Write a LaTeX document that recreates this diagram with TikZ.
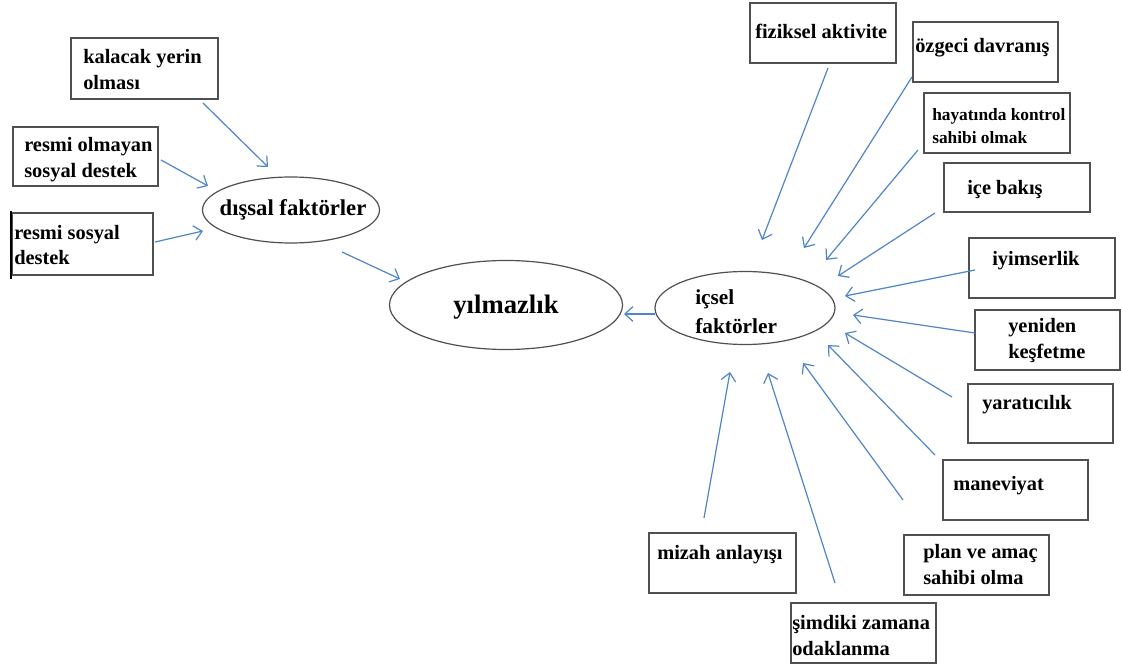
\documentclass[tikz,border=0pt]{standalone}
\usepackage{fontspec}
\setmainfont{Liberation Serif}
\usetikzlibrary{arrows.meta,shapes.geometric,fit}
\definecolor{arrowblue}{HTML}{5085C8}
\definecolor{boxgray}{HTML}{505050}
\begin{document}
\begin{tikzpicture}[x=0.75pt,y=-0.75pt,
  box/.style={draw=boxgray, line width=1.1pt, inner sep=0pt},
  ell/.style={draw=boxgray, line width=0.9pt, ellipse, inner sep=0pt},
  lbl/.style={font=\fontsize{15.3}{19}\selectfont\bfseries, inner sep=0pt, align=left, anchor=west},
  small/.style={font=\fontsize{13}{17}\selectfont\bfseries},
  arr/.style={draw=arrowblue, line width=0.9pt, -{Straight Barb[length=6pt,width=11pt]}}]
\fill[white] (0,0) rectangle (1121,670);
\useasboundingbox (0,0) rectangle (1121,670);

% ---- left boxes
\node[box, fit={(71,38)(218,99)}] (kalacak) {};
\node[lbl] (kalacakT) at (83,69.5) {kalacak yerin\\olması};
\node[box, fit={(13,127)(158,186)}] (resmiol) {};
\node[lbl] (resmiolT) at (24,159.5) {resmi olmayan\\sosyal destek};
\node[box, fit={(12,213)(153,275)}] (resmi) {};
\node[lbl] (resmiT) at (14,245) {resmi sosyal\\destek};
\draw[black, line width=1pt] (11,211) -- (11,279);

% ---- ellipses
\node[ell, minimum width=132.75pt, minimum height=49.5pt] (dissal) at (291,210) {};
\node[lbl, anchor=center, font=\fontsize{17}{20}\selectfont\bfseries] (dissalT) at (293,210) {dışsal faktörler};
\node[ell, minimum width=174.75pt, minimum height=66.75pt] (yilmaz) at (506,305) {};
\node[lbl, anchor=center, font=\fontsize{20}{24}\selectfont\bfseries] (yilmazT) at (506,307) {yılmazlık};
\node[ell, minimum width=135pt, minimum height=54.75pt] (icsel) at (745,308) {};
\node[lbl, font=\fontsize{16}{22}\selectfont\bfseries] (icselT) at (695,312) {içsel\\faktörler};

% ---- right boxes
\node[box, fit={(750,3)(896,63)}] (fiz) {};
\node[lbl] (fizT) at (755,31) {fiziksel aktivite};
\node[box, fit={(913,22)(1058,82)}] (ozg) {};
\node[lbl] (ozgT) at (915,48) {özgeci davranış};
\node[box, fit={(924,93)(1070,153)}] (hay) {};
\node[lbl, small] (hayT) at (932,126) {hayatında kontrol\\sahibi olmak};
\node[box, fit={(944,163)(1090,212)}] (ice) {};
\node[lbl] (iceT) at (967,190) {içe bakış};
\node[box, fit={(969,238)(1115,298)}] (iyi) {};
\node[lbl] (iyiT) at (992,261) {iyimserlik};
\node[box, fit={(975,310)(1120,370)}] (yen) {};
\node[lbl] (yenT) at (1008,340.5) {yeniden\\keşfetme};
\node[box, fit={(968,384)(1113,443)}] (yar) {};
\node[lbl] (yarT) at (982,405) {yaratıcılık};
\node[box, fit={(943,460)(1088,520)}] (man) {};
\node[lbl] (manT) at (953,486) {maneviyat};
\node[box, fit={(904,535)(1049,595)}] (plan) {};
\node[lbl] (planT) at (923,564.5) {plan ve amaç\\sahibi olma};
\node[box, fit={(791,603)(936,663)}] (sim) {};
\node[lbl] (simT) at (792,635.5) {şimdiki zamana\\odaklanma};
\node[box, fit={(649,533)(796,593)}] (miz) {};
\node[lbl] (mizT) at (657,555) {mizah anlayışı};

% ---- connector end points
\coordinate (kalS) at (203,103);  \coordinate (kalE) at (268,167);
\coordinate (rolS) at (161,160);  \coordinate (rolE) at (208,186);
\coordinate (resS) at (155,242);  \coordinate (resE) at (203,231);
\coordinate (disS) at (342,252);  \coordinate (disE) at (400,279);
\coordinate (icsS) at (655,314);  \coordinate (icsE) at (624,314);
\coordinate (fizS) at (828,68);   \coordinate (fizE) at (762,240);
\coordinate (ozgS) at (912,77);   \coordinate (ozgE) at (804,248);
\coordinate (hayS) at (918,150);  \coordinate (hayE) at (826,260);
\coordinate (iceS) at (935,213);  \coordinate (iceE) at (838,276);
\coordinate (iyiS) at (975,270);  \coordinate (iyiE) at (845,296);
\coordinate (yenS) at (975,333);  \coordinate (yenE) at (853,315);
\coordinate (yarS) at (952,397);  \coordinate (yarE) at (845,333);
\coordinate (manS) at (935,455);  \coordinate (manE) at (828,345);
\coordinate (planS) at (903,500); \coordinate (planE) at (803,363);
\coordinate (simS) at (835,583);  \coordinate (simE) at (768,373);
\coordinate (mizS) at (704,518);  \coordinate (mizE) at (730,372);

\foreach \n in {kal,rol,res,dis,ics,fiz,ozg,hay,ice,iyi,yen,yar,man,plan,sim,miz}
  \draw[arr] (\n S) -- (\n E);
\end{tikzpicture}
\end{document}
